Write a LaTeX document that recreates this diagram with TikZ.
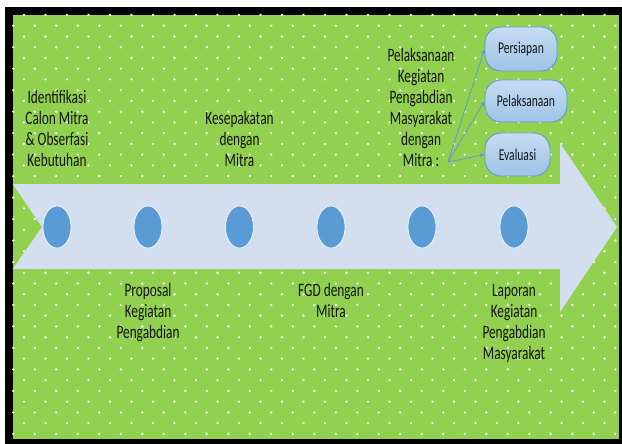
\documentclass[tikz,border=0pt]{standalone}
\usepackage{fontspec}
\usetikzlibrary{arrows.meta,shapes.geometric}
\newfontfamily\lblfont[FakeStretch=0.70]{Carlito}
\definecolor{bggreen}{HTML}{92D050}
\definecolor{arrowfill}{HTML}{D3DEEF}
\definecolor{dotblue}{HTML}{5B9BD5}
\definecolor{boxtop}{HTML}{C6DCF2}
\definecolor{boxbot}{HTML}{9DC3E6}
\definecolor{txt}{HTML}{141414}
\tikzset{
  lbl/.style={font=\lblfont\fontsize{19}{21}\selectfont, text=txt, align=center, inner sep=0pt, text depth=0pt, anchor=south},
  stage/.style={ellipse, fill=dotblue, draw=white, line width=0.6pt, minimum width=28pt, minimum height=42pt, inner sep=0pt},
  subbox/.style={draw=dotblue, line width=0.9pt, rounded corners=16pt, top color=boxtop, bottom color=boxbot, font=\lblfont\fontsize{16.5}{18}\selectfont, text=txt, inner sep=0pt},
  link/.style={draw=dotblue, line width=0.8pt, -{Stealth[length=5pt,width=4pt]}}
}
\begin{document}
\begin{tikzpicture}[x=1pt,y=-1pt]
\useasboundingbox (0,0) rectangle (622,444);
\fill[white] (0,0) rectangle (622,444);
\fill[black] (4.7,7) rectangle (622,444);
\fill[bggreen] (12.7,15) rectangle (619.3,439);
% dot pattern
\foreach \n in {0,...,39}{
  \pgfmathsetmacro{\yy}{15+10.74*\n}
  \pgfmathsetmacro{\xo}{mod(\n,2)==0 ? 24 : 13.3}
  \foreach \k in {0,...,28}{
    \pgfmathsetmacro{\xx}{\xo+21.5*\k}
    \ifdim \xx pt<619pt
      \fill[white] (\xx,\yy) circle[radius=1.3pt];
    \fi
  }
}
% big arrow
\fill[arrowfill] (12.7,184) -- (560,184) -- (560,143) -- (617,227) -- (560,312) -- (560,269) -- (12.7,269) -- (42,227) -- cycle;
% stage circles
\node[stage] (c1) at (57,227) {};
\node[stage] (c2) at (148,227) {};
\node[stage] (c3) at (239.5,227) {};
\node[stage] (c4) at (331,227) {};
\node[stage] (c5) at (422,227) {};
\node[stage] (c6) at (514,227) {};
% labels above
\node[lbl] (t1) at (57,167) {Identifikasi\\Calon Mitra\\\& Obserfasi\\Kebutuhan};
\node[lbl] (t3) at (239.5,167) {Kesepakatan\\dengan\\Mitra};
\node[lbl] (t5) at (421,167) {Pelaksanaan\\Kegiatan\\Pengabdian\\Masyarakat\\dengan\\Mitra :};
% labels below
\node[lbl] (t2) at (148,339) {Proposal\\Kegiatan\\Pengabdian};
\node[lbl] (t4) at (331,318) {FGD dengan\\Mitra};
\node[lbl] (t6) at (514,360) {Laporan\\Kegiatan\\Pengabdian\\Masyarakat};
% sub boxes
\node[subbox, minimum width=72pt, minimum height=44pt] (b1) at (521,49) {Persiapan};
\node[subbox, minimum width=82pt, minimum height=42pt] (b2) at (526,101) {Pelaksanaan};
\node[subbox, minimum width=65pt, minimum height=43pt] (b3) at (517.5,154.5) {Evaluasi};
\coordinate (src) at (448,162);
\draw[link] (src) -- (b1.west);
\draw[link] (src) -- (b2.west);
\draw[link] (src) -- (b3.west);
\end{tikzpicture}
\end{document}
